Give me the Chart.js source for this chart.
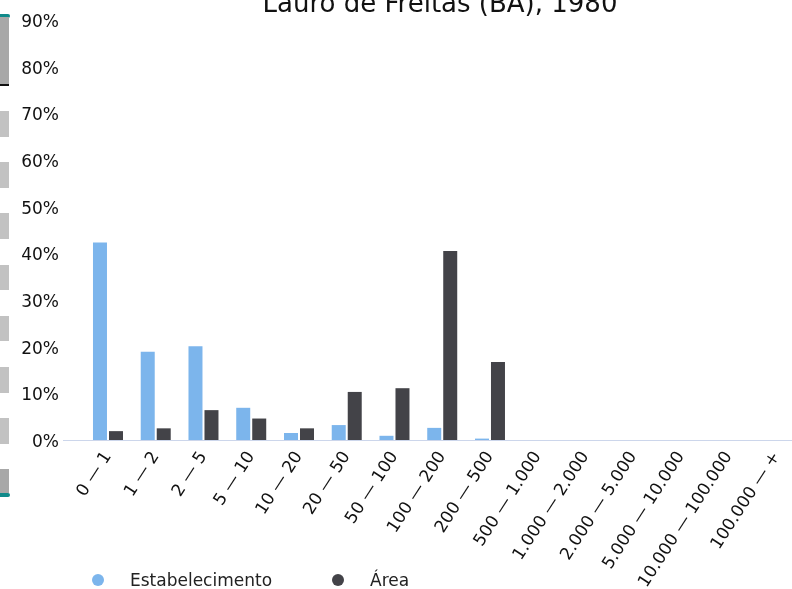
<!DOCTYPE html>
<html>
<head>
<meta charset="utf-8">
<script src="https://cdn.jsdelivr.net/npm/chart.js@4.4.0/dist/chart.umd.min.js"></script>
<style>
  html, body { margin: 0; padding: 0; background: #fff; overflow: hidden; }
  #wrap { position: relative; width: 792px; height: 589px; font-family: "DejaVu Sans", sans-serif; }
  #chart { position: absolute; left: 0; top: 0; }
  .seg { position: absolute; left: 0; width: 9px; background: #c2c2c2; }
  .seg.dark { background: #a8a8a8; }
  .cap { position: absolute; left: 0; width: 10px; height: 4px; background: #108a8a; border-radius: 0 2px 2px 0; }
  #legend { position: absolute; left: 92px; top: 570px; display: flex; align-items: center; font-size: 17px; color: #222; }
  #legend .item { display: flex; align-items: center; margin-right: 60px; }
  #legend .dot { width: 12px; height: 12px; border-radius: 50%; margin-right: 26px; }
</style>
</head>
<body>
<div id="wrap">
  <canvas id="chart" width="792" height="589"></canvas>
  <!-- scroll strip on the left edge -->
  <div class="cap" style="top:14px"></div>
  <div class="seg dark" style="top:17px;height:67px"></div>
  <div class="seg" style="top:84px;height:2px;background:#111"></div>
  <div class="seg" style="top:111px;height:26px"></div>
  <div class="seg" style="top:162px;height:26px"></div>
  <div class="seg" style="top:213px;height:26px"></div>
  <div class="seg" style="top:265px;height:25px"></div>
  <div class="seg" style="top:316px;height:25px"></div>
  <div class="seg" style="top:367px;height:26px"></div>
  <div class="seg" style="top:418px;height:26px"></div>
  <div class="seg dark" style="top:469px;height:24px"></div>
  <div class="cap" style="top:493px"></div>
  <div id="legend"></div>
</div>
<script>
const chartTitle = 'Lauro de Freitas (BA), 1980';

const categories = [
  '0 — 1', '1 — 2', '2 — 5', '5 — 10', '10 — 20', '20 — 50', '50 — 100',
  '100 — 200', '200 — 500', '500 — 1.000', '1.000 — 2.000', '2.000 — 5.000',
  '5.000 — 10.000', '10.000 — 100.000', '100.000 — +'
];

const seriesNames = ['Estabelecimento', 'Área'];
const seriesColors = ['#7cb5ec', '#434348'];

// percent values
const estabelecimento = [42.3, 18.9, 20.1, 6.9, 1.5, 3.2, 0.9, 2.6, 0.3, 0, 0, 0, 0, 0, 0];
const area = [1.9, 2.5, 6.4, 4.6, 2.5, 10.3, 11.1, 40.5, 16.7, 0, 0, 0, 0, 0, 0];

const yTicks = [0, 10, 20, 30, 40, 50, 60, 70, 80, 90];

const font = '"DejaVu Sans", sans-serif';

// legend in html
const legend = document.getElementById('legend');
seriesNames.forEach((name, i) => {
  const item = document.createElement('span');
  item.className = 'item';
  item.innerHTML = `<span class="dot" style="background:${seriesColors[i]}"></span>${name}`;
  legend.appendChild(item);
});

const titlePlugin = {
  id: 'topTitle',
  afterDraw(chart) {
    const ctx = chart.ctx;
    ctx.save();
    ctx.font = '26px ' + font;
    ctx.fillStyle = '#111';
    ctx.textAlign = 'center';
    ctx.textBaseline = 'alphabetic';
    ctx.fillText(chartTitle, 440, 12);
    ctx.restore();
  }
};

const toPoints = arr => arr.map((v, i) => ({ x: i, y: v }));

new Chart(document.getElementById('chart').getContext('2d'), {
  type: 'bar',
  data: {
    datasets: [
      { label: seriesNames[0], data: toPoints(estabelecimento), backgroundColor: seriesColors[0] },
      { label: seriesNames[1], data: toPoints(area), backgroundColor: seriesColors[1] }
    ]
  },
  options: {
    responsive: false,
    animation: false,
    categoryPercentage: 0.67,
    barPercentage: 0.875,
    layout: { padding: { top: 20, right: 0, left: 0, bottom: 0 } },
    plugins: {
      legend: { display: false },
      title: { display: false },
      tooltip: { enabled: false }
    },
    scales: {
      x: {
        type: 'linear',
        offset: false,
        min: -0.942,
        max: 14.325,
        afterFit: s => { s.height = 149; s.paddingLeft = 0; s.paddingRight = 0; },
        afterBuildTicks: s => { s.ticks = categories.map((_, i) => ({ value: i })); },
        grid: { display: false, drawTicks: false, offset: false },
        border: { display: true, color: '#ccd6eb', width: 1 },
        ticks: {
          autoSkip: false,
          minRotation: 57,
          maxRotation: 57,
          padding: 8,
          color: '#111',
          font: { family: font, size: 17 },
          callback: v => categories[v]
        }
      },
      y: {
        min: 0,
        max: 90,
        afterFit: s => { s.width = 63; },
        afterBuildTicks: s => { s.ticks = yTicks.map(v => ({ value: v })); },
        grid: { display: false, drawTicks: false },
        border: { display: false },
        ticks: {
          padding: 4,
          labelOffset: 2.5,
          color: '#111',
          font: { family: font, size: 17 },
          callback: v => v + '%'
        }
      }
    }
  },
  plugins: [titlePlugin]
});
</script>
</body>
</html>
